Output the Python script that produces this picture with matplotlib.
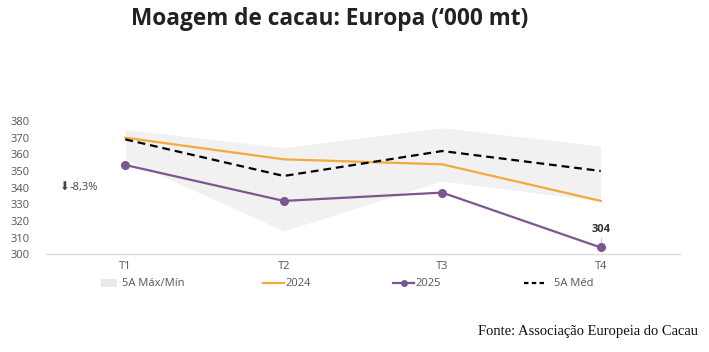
import matplotlib
matplotlib.use("Agg")
import matplotlib.pyplot as plt
from matplotlib.patches import Patch
from matplotlib.lines import Line2D

quarters = ["T1", "T2", "T3", "T4"]
band_max = [375, 364, 376, 365]
band_min = [357, 314, 344, 332]
series_2024 = [370, 357, 354, 332]
series_2025 = [353.6, 332, 337, 304]
avg_5y = [369, 347, 362, 350]
change_label = "-8,3%"

ORANGE = "#F4A93C"
PURPLE = "#7D5690"
BAND = "#F1F1F1"
GRAY = "#555555"

plt.rcParams["font.family"] = ["Open Sans", "DejaVu Sans"]

fig = plt.figure(figsize=(7.09, 3.52), dpi=100)
W, H = 709.0, 352.0
ax = fig.add_axes([0.065, 0.278, 0.894, 0.378])

x = list(range(len(quarters)))
ax.fill_between(x, band_min, band_max, color=BAND, lw=0, zorder=1)
ax.plot(x, series_2024, color=ORANGE, lw=1.6, zorder=3)
ax.plot(x, avg_5y, color="black", lw=1.6, ls=(0, (3.5, 2.2)), zorder=4)
ax.plot(x, series_2025, color=PURPLE, lw=1.6, marker="o", ms=5.5, zorder=5)

ax.set_xlim(-0.5, 3.5)
ax.set_ylim(300, 380)
ax.set_yticks(range(300, 381, 10))
ax.set_xticks(x)
ax.set_xticklabels(quarters)
ax.tick_params(axis="y", length=0, labelsize=8, labelcolor=GRAY, pad=12)
ax.tick_params(axis="x", length=0, labelsize=8, labelcolor=GRAY, pad=5)
for s in ["top", "right", "left"]:
    ax.spines[s].set_visible(False)
ax.spines["bottom"].set_color("#DDDDDD")
ax.spines["bottom"].set_linewidth(1.0)

# value label for last point
ax.annotate(f"{series_2025[-1]:.0f}", xy=(x[-1], series_2025[-1]),
            xytext=(0, 9), textcoords="offset points", ha="center", va="bottom",
            fontsize=8, fontweight="bold", color="#333333")
ax.plot([x[-1], x[-1]], [series_2025[-1] + 2.5, series_2025[-1] + 5.5],
        color="#BBBBBB", lw=0.6, zorder=2)

# change annotation
ax.text(-0.39, 340, "\u2b07", fontsize=8.5, color="#444444", ha="center", va="center",
        family=["DejaVu Sans"])
ax.text(-0.355, 340, change_label, fontsize=8, color="#444444", ha="left", va="center")

# legend, one entry at a time to match the uneven spacing
handles = [
    Patch(facecolor="#E9E9E9", edgecolor="none"),
    Line2D([], [], color=ORANGE, lw=1.6),
    Line2D([], [], color=PURPLE, lw=1.6, marker="o", ms=4),
    Line2D([], [], color="black", lw=1.6, ls=(0, (2, 1.5))),
]
labels = ["5A M\u00e1x/M\u00edn", "2024", "2025", "5A M\u00e9d"]
legend_x = [101, 263, 393, 524]
text_pad = [0.5, 0.1, 0.1, 0.8]
for h, lab, lx, tp in zip(handles, labels, legend_x, text_pad):
    fig.legend([h], [lab], loc="center left", bbox_to_anchor=(lx / W, 1 - 284 / H),
               frameon=False, fontsize=8, labelcolor=GRAY,
               handlelength=1.4 if lab.startswith("5A M\u00e1") else 1.9,
               handletextpad=tp, borderpad=0, borderaxespad=0)

fig.text(0.465, 0.945, "Moagem de cacau: Europa (\u2018000 mt)", ha="center", va="center",
         fontsize=16.3, fontweight="bold", color="#222222")
fig.text(0.985, 0.058, "Fonte: Associa\u00e7\u00e3o Europeia do Cacau", ha="right", va="center",
         fontsize=10.5, family=["Liberation Serif"], color="#111111")

fig.savefig("out.png", dpi=100)
